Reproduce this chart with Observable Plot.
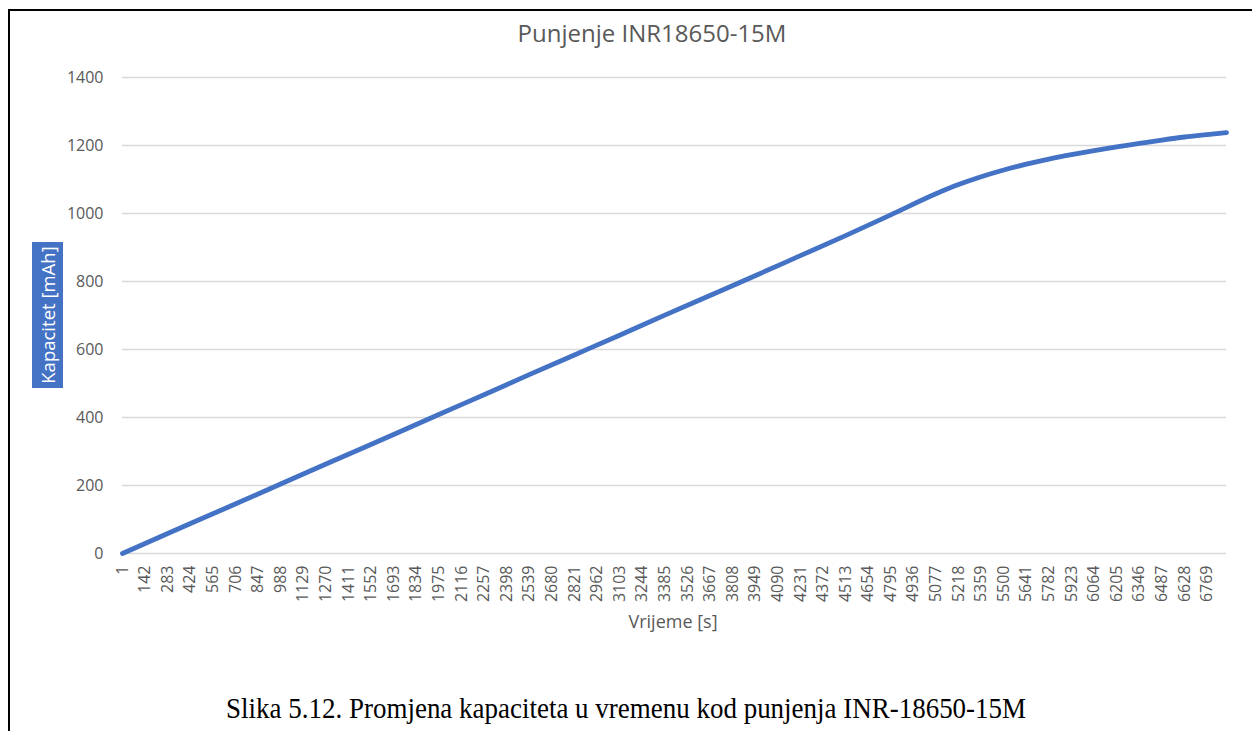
<!DOCTYPE html>
<html>
<head>
<meta charset="utf-8">
<script src="https://cdn.jsdelivr.net/npm/d3@7"></script>
<script src="https://cdn.jsdelivr.net/npm/@observablehq/plot@0.6"></script>
<style>
  html, body { margin: 0; padding: 0; background: #fff; width: 1252px; height: 731px; overflow: hidden; }
  #frame { position: absolute; left: 8px; top: 9px; width: 1260px; height: 740px; border-left: 2px solid #000; border-top: 2px solid #000; }
  #title { position: absolute; left: 0; width: 1304px; top: 21px; line-height: 1; text-align: center; font-family: "Open Sans", sans-serif; font-size: 24px; color: #595959; }
  #chart { position: absolute; left: 0; top: 0; }
  #ylab { position: absolute; left: 32px; top: 242px; width: 31px; height: 146px; background: #4472C4; }
  #ylab span { position: absolute; left: 50%; top: 50%; transform: translate(-50%, -50%) rotate(-90deg); white-space: nowrap; color: #fff; font-family: "Open Sans", sans-serif; font-size: 18.5px; line-height: 1; }
  #xlab { position: absolute; left: 0; width: 1346px; top: 612px; line-height: 1; text-align: center; font-family: "Open Sans", sans-serif; font-size: 18px; color: #595959; }
  #caption { position: absolute; left: 0; width: 1252px; top: 694px; line-height: 1; text-align: center; }
  #caption span { display: inline-block; font-family: "Liberation Serif", "Times New Roman", serif; font-size: 29px; color: #000; transform: scaleX(0.93); white-space: nowrap; }
</style>
</head>
<body>
<div id="frame"></div>
<div id="chart"></div>
<div id="title">Punjenje INR18650-15M</div>
<div id="ylab"><span>Kapacitet [mAh]</span></div>
<div id="xlab">Vrijeme [s]</div>
<div id="caption"><span>Slika 5.12. Promjena kapaciteta u vremenu kod punjenja INR-18650-15M</span></div>
<script>
// Time (s) and capacity (mAh)
const times = [1, 283, 565, 847, 1129, 1411, 1693, 1975, 2257, 2539, 2821, 3103, 3385, 3667, 3949, 4231, 4513, 4795, 5077, 5218, 5359, 5500, 5641, 5782, 5923, 6064, 6205, 6346, 6487, 6628, 6769, 6890];
const capacity = [0, 59, 117, 175, 234, 292, 350, 409, 467, 526, 584, 642, 701, 759, 817, 876, 935, 996, 1058, 1085, 1108, 1128, 1145, 1160, 1173, 1185, 1196, 1206, 1216, 1225, 1232, 1238];
const xTickLabels = [1, 142, 283, 424, 565, 706, 847, 988, 1129, 1270, 1411, 1552, 1693, 1834, 1975, 2116, 2257, 2398, 2539, 2680, 2821, 2962, 3103, 3244, 3385, 3526, 3667, 3808, 3949, 4090, 4231, 4372, 4513, 4654, 4795, 4936, 5077, 5218, 5359, 5500, 5641, 5782, 5923, 6064, 6205, 6346, 6487, 6628, 6769];
const yTickLabels = [0, 200, 400, 600, 800, 1000, 1200, 1400];

const data = times.map((t, i) => ({t, c: capacity[i]}));

const H = 640;
const chart = Plot.plot({
  width: 1252,
  height: H,
  marginLeft: 122,
  marginRight: 26,
  marginTop: 77,
  marginBottom: H - 553,
  style: { fontFamily: "Open Sans, sans-serif", fontSize: "16px", color: "#595959", background: "transparent" },
  x: { type: "linear", domain: [1, 6890] },
  y: { domain: [0, 1400] },
  marks: [
    Plot.gridY(yTickLabels, { stroke: "#d9d9d9", strokeOpacity: 1, strokeWidth: 1.3 }),
    Plot.axisY(yTickLabels, { tickSize: 0, tickPadding: 19, tickFormat: d => String(d), label: null, fill: "#595959" }),
    Plot.axisX(xTickLabels, { tickSize: 0, tickPadding: 12, tickRotate: -90, tickFormat: d => String(d), label: null, fill: "#595959" }),
    Plot.line(data, { x: "t", y: "c", stroke: "#4472C4", strokeWidth: 4.8, curve: "monotone-x" })
  ]
});
document.getElementById("chart").appendChild(chart);
</script>
</body>
</html>
